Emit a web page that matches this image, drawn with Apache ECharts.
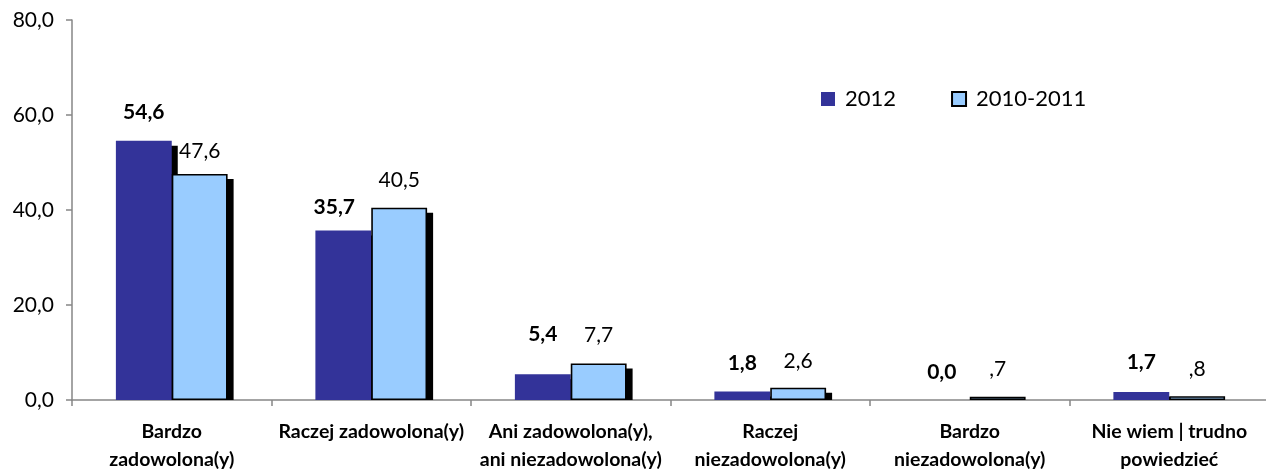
<!DOCTYPE html>
<html>
<head>
<meta charset="utf-8">
<script src="https://cdn.jsdelivr.net/npm/echarts@6/dist/echarts.min.js"></script>
<style>
  html, body { margin: 0; padding: 0; background: #fff; }
  #chart { width: 1266px; height: 472px; }
</style>
</head>
<body>
<div id="chart"></div>
<script>
// Satisfaction categories and shares (%) for the two survey waves
const categories = [
  'Bardzo\nzadowolona(y)',
  'Raczej zadowolona(y)',
  'Ani zadowolona(y),\nani niezadowolona(y)',
  'Raczej\nniezadowolona(y)',
  'Bardzo\nniezadowolona(y)',
  'Nie wiem | trudno\npowiedzieć'
];
const seriesNames = ['2012', '2010-2011'];
const values2012 = [54.6, 35.7, 5.4, 1.8, 0.0, 1.7];
const values2010_2011 = [47.6, 40.5, 7.7, 2.6, 0.7, 0.8];
const yTicks = [0, 20, 40, 60, 80];

// Label lift above each bar top (px), per category
const liftA = [18, 13, 30, 18, 17, 19];
const liftB = [12, 17, 18, 16, 17, 16];
const shiftA = [0, -9, 0, 0, 0, 0];

const FONT = 'Lato, "Liberation Sans", sans-serif';
const DARK = '#333399';
const LIGHT = '#99CCFF';
const AXIS = '#868686';
const BAR_RATIO = 0.28;
const SHADOW_DX = 6, SHADOW_DY = 5;

const fmtComma = v => v.toFixed(1).replace('.', ',');
// Excel-style "#,#" format drops the leading zero for values below one
const fmtNoLead = v => fmtComma(v).replace(/^0(?=,)/, '');

const shadowData = [];
values2012.forEach((v, i) => shadowData.push([i, v, 0]));
values2010_2011.forEach((v, i) => shadowData.push([i, v, 1]));

const chart = echarts.init(document.getElementById('chart'), null, { renderer: 'canvas' });

chart.setOption({
  animation: false,
  backgroundColor: '#fff',
  textStyle: { fontFamily: FONT },
  grid: { left: 72, top: 20, bottom: 72, right: -3, containLabel: false, outerBoundsMode: 'none' },
  legend: {
    left: 816, top: 83,
    itemWidth: 14, itemHeight: 14, itemGap: 55,
    icon: 'rect',
    data: seriesNames,
    textStyle: { fontFamily: FONT, fontSize: 22, color: '#000', padding: [0, 0, 0, 5] }
  },
  xAxis: {
    type: 'category',
    data: categories,
    axisLine: { lineStyle: { color: AXIS, width: 1.5 } },
    axisTick: { show: true, length: 6, alignWithLabel: false, lineStyle: { color: AXIS, width: 1.5 } },
    axisLabel: {
      interval: 0, margin: 18,
      fontFamily: FONT, fontSize: 19.5, fontWeight: 'bold', color: '#000',
      lineHeight: 28, verticalAlign: 'top'
    }
  },
  yAxis: {
    type: 'value',
    min: yTicks[0], max: yTicks[yTicks.length - 1], interval: yTicks[1] - yTicks[0],
    splitLine: { show: false },
    axisLine: { show: true, lineStyle: { color: AXIS, width: 1.5 } },
    axisTick: { show: true, length: 6, lineStyle: { color: AXIS, width: 1.5 } },
    axisLabel: { fontFamily: FONT, fontSize: 21, color: '#000', margin: 18, formatter: fmtComma }
  },
  series: [
    {
      // drop shadows under the bars, stopped at the baseline
      type: 'custom',
      z: 1,
      silent: true,
      data: shadowData,
      renderItem: (params, api) => {
        const cat = api.value(0), v = api.value(1), s = api.value(2);
        const top = api.coord([cat, v]);
        const base = api.coord([cat, 0]);
        const bw = api.size([1, 0])[0] * BAR_RATIO;
        const left = top[0] + (s === 0 ? -bw : 0);
        const y0 = top[1] + SHADOW_DY;
        const h = base[1] - y0;
        if (h <= 0) return null;
        return {
          type: 'rect',
          shape: { x: left + SHADOW_DX, y: y0, width: bw, height: h },
          style: { fill: '#000' }
        };
      }
    },
    {
      name: seriesNames[0],
      type: 'bar',
      z: 2,
      barWidth: (BAR_RATIO * 100) + '%',
      barGap: '0%',
      itemStyle: { color: DARK, borderWidth: 0 },
      data: values2012.map((v, i) => ({
        value: v,
        label: { distance: liftA[i], offset: [shiftA[i], 0] }
      })),
      label: {
        show: true, position: 'top',
        fontFamily: FONT, fontSize: 21, fontWeight: 'bold', color: '#000',
        formatter: p => fmtComma(p.value)
      }
    },
    {
      name: seriesNames[1],
      type: 'bar',
      z: 3,
      barWidth: (BAR_RATIO * 100) + '%',
      barGap: '0%',
      itemStyle: { color: LIGHT, borderColor: '#000', borderWidth: 1.6 },
      data: values2010_2011.map((v, i) => ({
        value: v,
        label: { distance: liftB[i] }
      })),
      label: {
        show: true, position: 'top',
        fontFamily: FONT, fontSize: 21, color: '#000',
        formatter: p => fmtNoLead(p.value)
      }
    }
  ]
});
</script>
</body>
</html>
